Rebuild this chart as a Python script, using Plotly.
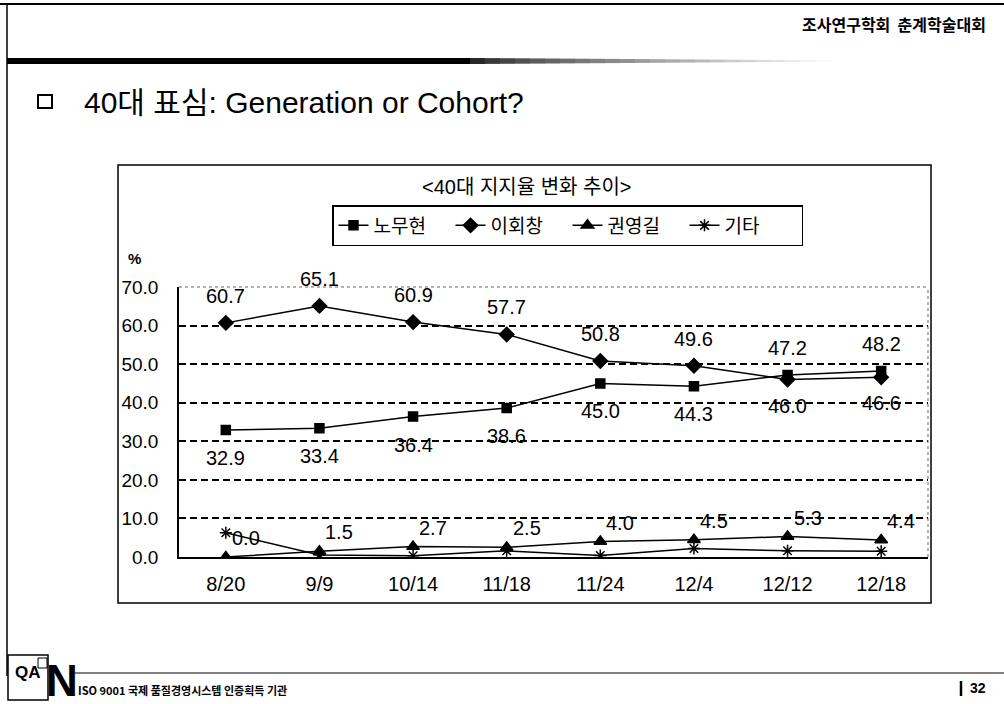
import plotly.graph_objects as go

# ---------------- data ----------------
dates = ["8/20", "9/9", "10/14", "11/18", "11/24", "12/4", "12/12", "12/18"]
roh = [32.9, 33.4, 36.4, 38.6, 45.0, 44.3, 47.2, 48.2]     # 노무현
lee = [60.7, 65.1, 60.9, 57.7, 50.8, 49.6, 46.0, 46.6]     # 이회창
kwon = [0.0, 1.5, 2.7, 2.5, 4.0, 4.5, 5.3, 4.4]           # 권영길
etc = [6.3, 0.5, 0.3, 1.6, 0.4, 2.2, 1.6, 1.5]            # 기타 (no labels)
series_names = ["노무현", "이회창", "권영길", "기타"]
y_tick_vals = [0, 10, 20, 30, 40, 50, 60, 70]
y_tick_text = ["0.0", "10.0", "20.0", "30.0", "40.0", "50.0", "60.0", "70.0"]
grid_vals = [10, 20, 30, 40, 50, 60]

# ---------------- helpers ----------------
W, H = 1004, 704
def px(x):
    return x / W
def py(y):
    return 1 - y / H

FONT = "Liberation Sans, Arial, Noto Sans CJK KR, sans-serif"
KFONT = "Noto Sans CJK KR, Liberation Sans, sans-serif"

fig = go.Figure()

styles = [
    dict(symbol="square", size=9),
    dict(symbol="diamond", size=11),
    dict(symbol="triangle-up", size=11),
    dict(symbol="asterisk-open", size=10),
]
for name, vals, st in zip(series_names, [roh, lee, kwon, etc], styles):
    fig.add_trace(go.Scatter(
        x=dates, y=vals, name=name, mode="lines+markers",
        line=dict(color="black", width=1.5),
        marker=dict(symbol=st["symbol"], size=st["size"], color="black",
                    line=dict(color="black", width=1.5)),
        hoverinfo="skip",
    ))

annotations = []
# data labels: the higher of the two main series gets its label above
for i, d in enumerate(dates):
    r_up = roh[i] > lee[i]
    annotations.append(dict(x=d, y=roh[i], xref="x", yref="y", text=f"{roh[i]:.1f}",
                            showarrow=False, yshift=27 if r_up else -28,
                            font=dict(size=20, color="black", family=FONT)))
    annotations.append(dict(x=d, y=lee[i], xref="x", yref="y", text=f"{lee[i]:.1f}",
                            showarrow=False, yshift=-26 if r_up else 27,
                            font=dict(size=20, color="black", family=FONT)))
    annotations.append(dict(x=d, y=kwon[i], xref="x", yref="y", text=f"{kwon[i]:.1f}",
                            showarrow=False, xshift=20, yshift=19,
                            font=dict(size=20, color="black", family=FONT)))

# page texts
annotations += [
    dict(x=px(988), y=py(24), xref="paper", yref="paper", xanchor="right", yanchor="middle",
         text="<b>조사연구학회  춘계학술대회</b>", showarrow=False,
         font=dict(size=16, color="black", family=KFONT)),
    dict(x=px(82), y=py(102), xref="paper", yref="paper", xanchor="left", yanchor="middle",
         text="40대 표심: Generation or Cohort?", showarrow=False,
         font=dict(size=30, color="black", family=FONT)),
    dict(x=px(526), y=py(187), xref="paper", yref="paper", xanchor="center", yanchor="middle",
         text="&lt;40대 지지율 변화 추이&gt;", showarrow=False,
         font=dict(size=20, color="black", family=FONT)),
    dict(x=px(134), y=py(258), xref="paper", yref="paper", xanchor="center", yanchor="middle",
         text="<b>%</b>", showarrow=False,
         font=dict(size=15, color="black", family=FONT)),
    dict(x=px(28), y=py(672), xref="paper", yref="paper", xanchor="center", yanchor="middle",
         text="<b>QA</b>", showarrow=False,
         font=dict(size=17, color="black", family=FONT)),
    dict(x=px(62), y=py(680), xref="paper", yref="paper", xanchor="center", yanchor="middle",
         text="<b>N</b>", showarrow=False,
         font=dict(size=44, color="black", family=FONT)),
    dict(x=px(76), y=py(690), xref="paper", yref="paper", xanchor="left", yanchor="middle",
         text="<b>ISO 9001 국제 품질경영시스템 인증획득 기관</b>", showarrow=False,
         font=dict(size=11, color="black", family=KFONT)),
    dict(x=px(968), y=py(688), xref="paper", yref="paper", xanchor="left", yanchor="middle",
         text="<b>32</b>", showarrow=False,
         font=dict(size=14, color="black", family=FONT)),
]

shapes = [
    # page top line and left border
    dict(type="line", xref="paper", yref="paper", x0=0, x1=1, y0=py(4), y1=py(4),
         line=dict(color="black", width=2)),
    dict(type="line", xref="paper", yref="paper", x0=px(7), x1=px(7), y0=py(4), y1=py(676),
         line=dict(color="black", width=1.5)),
    # thick header rule (black part)
    dict(type="rect", xref="paper", yref="paper", x0=px(7), x1=px(470), y0=py(64), y1=py(58),
         fillcolor="black", line=dict(width=0)),
    # title square bullet
    dict(type="rect", xref="paper", yref="paper", x0=px(38), x1=px(52), y0=py(108), y1=py(95),
         line=dict(color="black", width=2)),
    # chart box
    dict(type="rect", xref="paper", yref="paper", x0=px(118), x1=px(931), y0=py(603), y1=py(165),
         line=dict(color="black", width=1.5)),
    # plot area top / right dotted border
    dict(type="line", xref="x domain", yref="y domain", x0=0, x1=1, y0=1, y1=1,
         line=dict(color="#666", width=1, dash="dot")),
    dict(type="line", xref="x domain", yref="y domain", x0=1, x1=1, y0=0, y1=1,
         line=dict(color="#666", width=1, dash="dot")),
    # footer
    dict(type="line", xref="paper", yref="paper", x0=px(72), x1=1, y0=py(673), y1=py(673),
         line=dict(color="black", width=1)),
    dict(type="rect", xref="paper", yref="paper", x0=px(8), x1=px(48), y0=py(700), y1=py(655),
         line=dict(color="black", width=1.5)),
    dict(type="rect", xref="paper", yref="paper", x0=px(38), x1=px(47), y0=py(668), y1=py(658),
         line=dict(color="black", width=1)),
    dict(type="line", xref="paper", yref="paper", x0=px(961), x1=px(961), y0=py(681), y1=py(696),
         line=dict(color="black", width=2.5)),
]
# fading part of the header rule
n_fade = 24
for k in range(n_fade):
    x0 = 470 + k * 15
    g = int(40 + 215 * (k / n_fade) ** 0.8)
    shapes.append(dict(type="rect", xref="paper", yref="paper", x0=px(x0), x1=px(x0 + 15),
                       y0=py(64 - k * 0.1), y1=py(58 + k * 0.1),
                       fillcolor=f"rgb({g},{g},{g})", line=dict(width=0)))

fig.update_layout(
    width=W, height=H,
    margin=dict(l=0, r=0, t=0, b=0, pad=0, autoexpand=False),
    paper_bgcolor="white", plot_bgcolor="white",
    font=dict(family=FONT, color="black", size=20),
    showlegend=True,
    legend=dict(orientation="h", x=px(332), y=py(205), xanchor="left", yanchor="top",
                bordercolor="black", borderwidth=1.5, bgcolor="white",
                entrywidth=72, entrywidthmode="pixels",
                font=dict(size=19, family=FONT, color="black"),
                itemclick=False, itemdoubleclick=False),
    xaxis=dict(domain=[px(179), px(928)], type="category", range=[-0.5, 7.5],
               showline=True, linecolor="black", linewidth=1.5, showgrid=False,
               ticks="", tickfont=dict(size=20), ticklabelstandoff=8, zeroline=False,
               automargin=False, fixedrange=True),
    yaxis=dict(domain=[py(557), py(287)], range=[0, 70],
               tickmode="array", tickvals=y_tick_vals, ticktext=y_tick_text,
               showline=True, linecolor="black", linewidth=1.5, showgrid=False,
               ticks="", tickfont=dict(size=19), ticklabelstandoff=15, zeroline=False,
               minor=dict(tickvals=grid_vals, showgrid=True, gridcolor="black",
                          griddash="7px,4px", gridwidth=1.5, ticks=""),
               automargin=False, fixedrange=True),
    annotations=annotations,
    shapes=shapes,
)

fig.write_html("out.html", config={"displayModeBar": False},
               post_script="document.body.style.margin='0px';document.body.style.overflow='hidden';")
